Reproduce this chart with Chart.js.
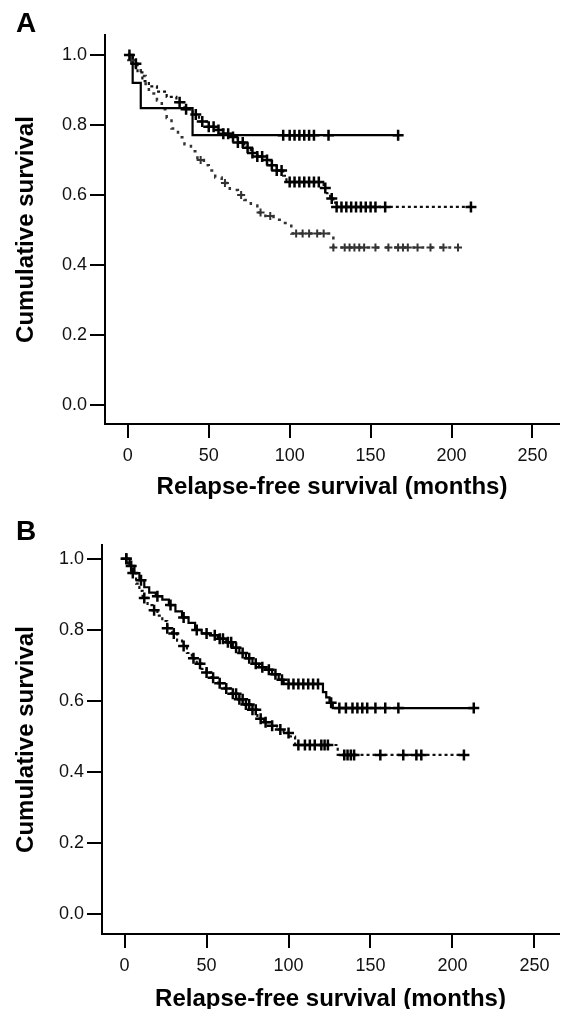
<!DOCTYPE html>
<html lang="en">
<head>
<meta charset="UTF-8">
<title>Relapse-free survival</title>
<script src="https://cdn.jsdelivr.net/npm/chart.js"></script>
<style>
html, body { margin: 0; padding: 0; background: #fff; overflow: hidden; }
body { width: 567px; height: 1009px; position: relative; font-family: "Liberation Sans", Arial, sans-serif; }
canvas { position: absolute; left: 0; }
#chartA { top: 0; }
#chartB { top: 505px; }
.panel { position: absolute; left: 16px; font-weight: bold; font-size: 28px; line-height: 28px; color: #000; }
</style>
</head>
<body>
<canvas id="chartA" width="567" height="505"></canvas>
<canvas id="chartB" width="567" height="512"></canvas>
<div class="panel" style="top:9px">A</div>
<div class="panel" style="top:517px">B</div>

<script>
// tick labels
const xTicks = [0, 50, 100, 150, 200, 250];
const yTicks = [0, 0.2, 0.4, 0.6, 0.8, 1.0];

// Panel A - solid (small group)
const aSolidT = [0, 3, 8, 40, 167];
const aSolidS = [1.0, 0.92, 0.848, 0.771, 0.771];
const aSolidCens = [96, 100, 103, 106, 109, 112, 115, 124, 167];

// Panel A - upper dotted
const aUpperT = [0, 3, 6, 9, 13, 18, 24, 30, 35, 40, 44, 49, 54, 59, 64, 68, 72, 76, 80, 84, 88, 92, 96, 98, 121, 123, 125, 127, 129, 212];
const aUpperS = [1.0, 0.975, 0.95, 0.925, 0.91, 0.895, 0.88, 0.865, 0.845, 0.83, 0.81, 0.795, 0.786, 0.775, 0.766, 0.75, 0.735, 0.72, 0.71, 0.70, 0.685, 0.67, 0.655, 0.637, 0.62, 0.605, 0.59, 0.578, 0.566, 0.566];
const aUpperCens = [1, 5, 32, 36, 42, 46, 50, 53, 56, 59, 62, 65, 68, 71, 74, 77, 80, 83, 86, 89, 92, 95, 100, 103, 106, 109, 112, 115, 118, 122, 126, 129, 132, 135, 138, 141, 144, 147, 150, 153, 159, 212];

// Panel A - lower dotted
const aLowerT = [0, 2, 5, 8, 11, 13, 18, 21, 24, 27, 31, 35, 39, 43, 47, 50, 54, 58, 63, 68, 72, 76, 80, 85, 90, 96, 101, 127, 204];
const aLowerS = [1.0, 0.985, 0.96, 0.94, 0.91, 0.89, 0.87, 0.845, 0.82, 0.79, 0.765, 0.745, 0.725, 0.70, 0.685, 0.67, 0.65, 0.634, 0.614, 0.60, 0.586, 0.57, 0.55, 0.54, 0.529, 0.52, 0.49, 0.45, 0.45];
const aLowerCens = [2, 45, 60, 70, 82, 88, 104, 108, 112, 117, 121, 127, 134, 137, 140, 143, 146, 153, 161, 167, 170, 173, 179, 187, 195, 204];

// Panel B - upper solid
const bUpperT = [0, 3, 6, 9, 12, 15, 19, 23, 27, 31, 35, 39, 43, 47, 52, 57, 62, 66, 70, 74, 78, 82, 86, 90, 94, 97, 121, 123, 125, 127, 213];
const bUpperS = [1.0, 0.98, 0.96, 0.94, 0.92, 0.905, 0.895, 0.885, 0.87, 0.852, 0.835, 0.82, 0.80, 0.79, 0.785, 0.775, 0.765, 0.75, 0.735, 0.72, 0.705, 0.695, 0.688, 0.675, 0.66, 0.648, 0.625, 0.61, 0.595, 0.58, 0.58];
const bUpperCens = [1, 4, 10, 20, 28, 36, 44, 50, 55, 58, 60, 63, 65, 68, 72, 76, 80, 84, 88, 92, 96, 100, 103, 106, 109, 112, 115, 118, 126, 131, 135, 139, 142, 145, 148, 153, 159, 167, 213];

// Panel B - lower dotted
const bLowerT = [0, 2, 4, 7, 9, 11, 14, 17, 20, 23, 26, 29, 32, 35, 38, 41, 44, 47, 50, 53, 57, 61, 65, 69, 73, 77, 81, 85, 89, 93, 97, 101, 104, 130, 207];
const bLowerS = [1.0, 0.98, 0.96, 0.93, 0.91, 0.89, 0.87, 0.855, 0.84, 0.825, 0.805, 0.79, 0.77, 0.755, 0.735, 0.72, 0.705, 0.69, 0.68, 0.665, 0.65, 0.635, 0.62, 0.605, 0.59, 0.575, 0.55, 0.54, 0.53, 0.52, 0.51, 0.50, 0.476, 0.448, 0.448];
const bLowerCens = [1, 5, 12, 18, 26, 30, 36, 42, 46, 50, 54, 58, 62, 66, 68, 70, 72, 74, 76, 78, 80, 83, 86, 90, 95, 100, 106, 110, 113, 116, 120, 122, 124, 134, 136, 138, 140, 156, 170, 178, 181, 207];

const FONT = '"Liberation Sans", Arial, sans-serif';

// survival value at time t (last step at or before t)
function survAt(T, S, t) {
  let v = S[0];
  for (let i = 0; i < T.length; i++) if (T[i] <= t) v = S[i];
  return v;
}

function curve(T, S, color, width, dash) {
  return {
    type: 'line',
    data: T.map((t, i) => ({ x: t, y: S[i] })),
    stepped: true,
    borderColor: color,
    borderWidth: width,
    borderDash: dash,
    pointRadius: 0,
    fill: false
  };
}

function marks(cens, T, S, color, r, w) {
  return {
    type: 'scatter',
    data: cens.map(t => ({ x: t, y: survAt(T, S, t) })),
    pointStyle: 'cross',
    pointRadius: r,
    borderColor: color,
    borderWidth: w,
    showLine: false
  };
}

function kmChart(id, datasets, ax) {
  new Chart(document.getElementById(id), {
    data: { datasets: datasets },
    options: {
      responsive: false,
      animation: false,
      layout: { padding: { top: ax.top, right: 0, bottom: 0, left: 0 } },
      plugins: { legend: { display: false }, tooltip: { enabled: false } },
      scales: {
        x: {
          type: 'linear',
          min: ax.xMin, max: ax.xMax,
          afterBuildTicks: s => { s.ticks = xTicks.map(v => ({ value: v })); },
          afterFit: s => { s.height = ax.xHeight; },
          ticks: { color: '#111', padding: 7, font: { family: FONT, size: 18 }, callback: v => String(v) },
          grid: { drawOnChartArea: false, drawTicks: true, tickLength: 14, color: '#000', lineWidth: 2 },
          border: { display: true, color: '#000', width: 2 },
          title: { display: true, text: 'Relapse-free survival (months)', color: '#000',
                   font: { family: FONT, size: 24, weight: 'bold' }, padding: { top: 0, bottom: 3.6 } }
        },
        y: {
          type: 'linear',
          min: ax.yMin, max: ax.yMax,
          afterBuildTicks: s => { s.ticks = yTicks.map(v => ({ value: v })); },
          afterFit: s => { s.width = ax.yWidth; },
          ticks: { color: '#111', padding: 3, font: { family: FONT, size: 18 }, callback: v => v.toFixed(1) },
          grid: { drawOnChartArea: false, drawTicks: true, tickLength: 15, color: '#000', lineWidth: 2 },
          border: { display: true, color: '#000', width: 2 },
          title: { display: true, text: 'Cumulative survival', color: '#000',
                   font: { family: FONT, size: 24, weight: 'bold' }, padding: { top: 12, bottom: 0 } }
        }
      }
    }
  });
}

kmChart('chartA', [
  marks(aSolidCens, aSolidT, aSolidS, '#000', 5.5, 2.5),
  marks(aUpperCens, aUpperT, aUpperS, '#000', 5.5, 2.5),
  marks(aLowerCens, aLowerT, aLowerS, '#333', 4, 2),
  curve(aSolidT, aSolidS, '#000', 2.2, []),
  curve(aUpperT, aUpperS, '#111', 2.2, [3, 3]),
  curve(aLowerT, aLowerS, '#333', 2.5, [3, 6])
], { top: 35, xHeight: 81, yWidth: 105, xMin: -14.1, xMax: 266.4, yMin: -0.054, yMax: 1.057 });

kmChart('chartB', [
  marks(bUpperCens, bUpperT, bUpperS, '#000', 5.5, 2.5),
  marks(bLowerCens, bLowerT, bLowerS, '#000', 5.5, 2.5),
  curve(bUpperT, bUpperS, '#000', 2.2, []),
  curve(bLowerT, bLowerS, '#111', 2.2, [3, 3])
], { top: 40, xHeight: 83, yWidth: 102, xMin: -13.8, xMax: 265, yMin: -0.056, yMax: 1.039 });
</script>
</body>
</html>
